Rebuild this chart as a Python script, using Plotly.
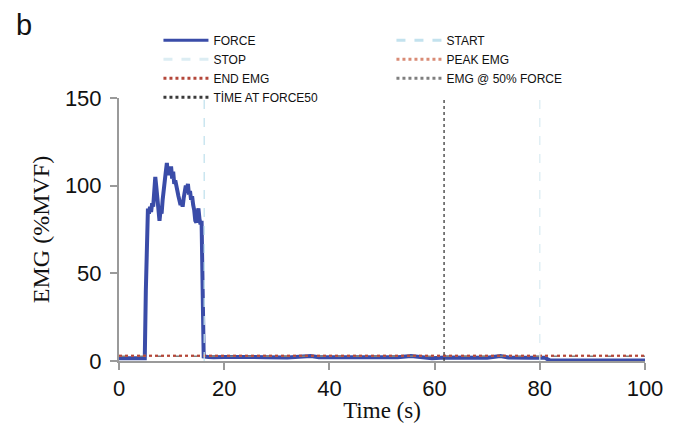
import plotly.graph_objects as go

# ---- data ----
force_t = [0, 1, 2, 3, 4, 4.9, 5.1, 5.3, 5.5, 5.7, 5.9, 6.1, 6.3, 6.5, 6.7, 6.9, 7.1,
           7.3, 7.5, 7.7, 7.9, 8.1, 8.3, 8.5, 8.7, 8.9, 9.1, 9.3, 9.5, 9.7, 9.9,
           10.1, 10.3, 10.5, 10.7, 10.9, 11.1, 11.3, 11.5, 11.7, 11.9, 12.1, 12.3,
           12.5, 12.7, 12.9, 13.1, 13.3, 13.5, 13.7, 13.9, 14.1, 14.3, 14.5, 14.7,
           14.9, 15.1, 15.3, 15.5, 15.7, 15.9, 16.1, 17, 18, 20, 24, 28, 32, 35,
           36.5, 38, 42, 46, 50, 53, 55.5, 57, 59.5, 62, 66, 70, 72.5, 74, 78, 80,
           81, 81.5, 82, 86, 90, 95, 100]
force_v = [1.5, 1.5, 1.4, 1.5, 1.5, 1.5, 40, 82, 87, 84, 88, 85, 90, 88, 101, 105, 99,
           90, 82, 80, 86, 84, 92, 99, 103, 108, 113, 106, 110, 106, 111,
           104, 108, 101, 103, 98, 97, 94, 92, 89, 91, 88, 93,
           96, 100, 97, 101, 95, 97, 92, 94, 89, 86, 80, 79,
           84, 87, 81, 78, 80, 40, 2.6, 2.3, 2.1, 2.3, 2.0, 2.2, 2.0, 2.2,
           2.8, 2.1, 2.0, 2.2, 2.0, 2.1, 2.9, 2.2, 1.6, 2.0, 2.1, 1.8, 2.8, 2.0, 1.9, 2.2,
           1.8, 1.0, 0.3, 0.3, 0.3, 0.3, 0.3]

start_time = 16.2
stop_time = 80.0
time_at_force50 = 61.8
peak_emg_level = 3.0
end_emg_level = 3.0
emg_at_50_level = 2.7

x_ticks = [0, 20, 40, 60, 80, 100]
y_ticks = [0, 50, 100, 150]

legend_names = ["FORCE", "START", "STOP", "PEAK EMG", "END EMG",
                "EMG @ 50% FORCE", "TİME AT FORCE50"]

# ---- styles ----
c_force = "#3a4ca8"
c_start = "#c3e2ee"
c_stop = "#dcedf3"
c_peak = "#d98b75"
c_end = "#b4473a"
c_e50 = "#7f7f7f"
c_time = "#3a3a3a"

fig = go.Figure()

x0, x1 = x_ticks[0], x_ticks[-1]
y0, y1 = y_ticks[0], y_ticks[-1]

# plot lines (no legend)
fig.add_trace(go.Scatter(x=force_t, y=force_v, mode="lines",
                         line=dict(color=c_force, width=4), showlegend=False))
fig.add_trace(go.Scatter(x=[x0, x1], y=[emg_at_50_level] * 2, mode="lines",
                         line=dict(color=c_e50, width=1.5, dash="dash"), showlegend=False))
fig.add_trace(go.Scatter(x=[x0, x1], y=[peak_emg_level] * 2, mode="lines",
                         line=dict(color=c_peak, width=1.8, dash="dot"), showlegend=False))
fig.add_trace(go.Scatter(x=[x0, x1], y=[end_emg_level] * 2, mode="lines",
                         line=dict(color=c_end, width=1.8, dash="dot"), showlegend=False))
fig.add_trace(go.Scatter(x=[start_time] * 2, y=[y0, y1], mode="lines",
                         line=dict(color=c_start, width=1.3, dash="dash"), showlegend=False))
fig.add_trace(go.Scatter(x=[stop_time] * 2, y=[y0, y1], mode="lines",
                         line=dict(color=c_stop, width=1.3, dash="dash"), showlegend=False))
fig.add_trace(go.Scatter(x=[time_at_force50] * 2, y=[y0, y1], mode="lines",
                         line=dict(color=c_time, width=1.3, dash="dot"), showlegend=False))

# legend entries
leg_styles = [
    (c_force, "solid"), (c_start, "dash"), (c_stop, "dash"), (c_peak, "dot"),
    (c_end, "dot"), (c_e50, "dot"), (c_time, "dot"),
]
for name, (col, dash) in zip(legend_names, leg_styles):
    fig.add_trace(go.Scatter(x=[None], y=[None], mode="lines", name=name,
                             line=dict(color=col, width=3, dash=dash)))

axis_common = dict(showline=True, linecolor="#9a9a9a", linewidth=2, ticks="outside",
                   tickcolor="#9a9a9a", tickwidth=2, ticklen=7, showgrid=False,
                   zeroline=False, mirror=False,
                   tickfont=dict(family="Liberation Sans, Arial", size=22, color="#111"))

# page body has an 8px default margin, so the figure is sized to fit the window
fig.update_layout(
    width=667, height=428,
    margin=dict(l=111, r=30, t=90, b=75),
    plot_bgcolor="white", paper_bgcolor="white",
    xaxis=dict(range=[x0, x1], tickvals=x_ticks,
               title=dict(text="Time (s)", font=dict(family="Liberation Serif, Times New Roman",
                                                     size=23, color="#111"), standoff=1),
               **axis_common),
    yaxis=dict(range=[y0, y1], tickvals=y_ticks, ticklabelstandoff=4,
               title=dict(text="EMG (%MVF)", font=dict(family="Liberation Serif, Times New Roman",
                                                       size=24, color="#111"), standoff=8),
               **axis_common),
    legend=dict(orientation="h", x=0.075, y=1.275, xanchor="left", yanchor="top",
                entrywidth=173, entrywidthmode="pixels", itemwidth=45,
                font=dict(family="Liberation Sans, Arial", size=12, color="#111"),
                bgcolor="rgba(0,0,0,0)", traceorder="normal"),
    annotations=[dict(text="b", xref="paper", yref="paper", x=-0.2, y=1.345,
                      xanchor="left", yanchor="top", showarrow=False,
                      font=dict(family="Liberation Sans, Arial", size=29, color="#111"))],
)

fig.write_html("out.html")
